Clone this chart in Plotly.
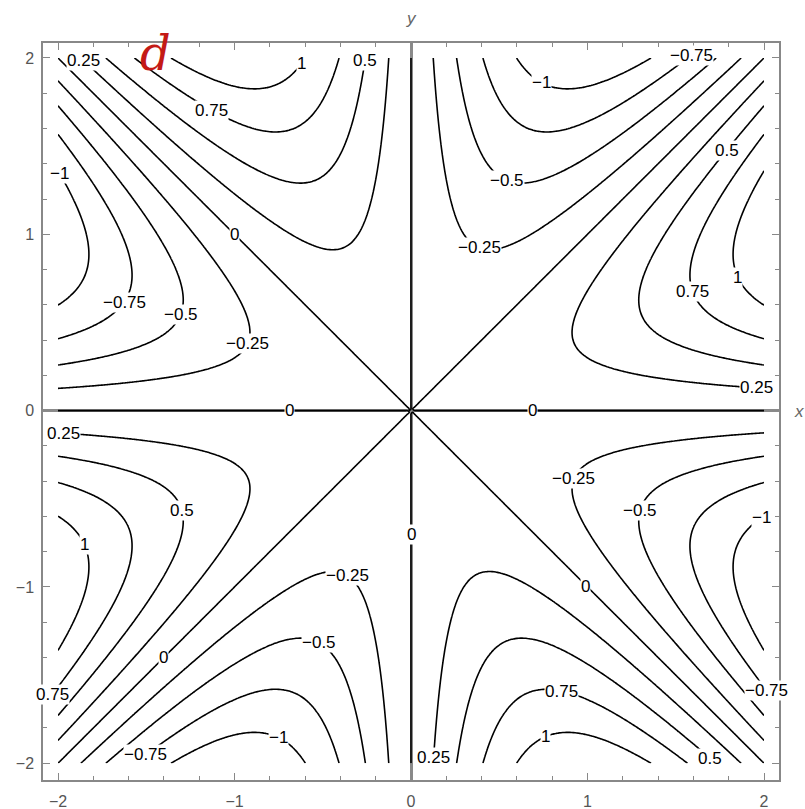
import numpy as np
import plotly.graph_objects as go

# contour levels and axis ticks
levels_start, levels_end, levels_step = -1.0, 1.0, 0.25
tick_vals = [-2, -1, 0, 1, 2]
tick_text = ["\u22122", "\u22121", "0", "1", "2"]

# contour labels: level and approximate spot along that level's curve
label_levels = [0.25, 1, 0.5, 0.75, -1, 0, -0.75, -0.5, -0.25, 0,
                0.25, 0.5, 1, 0, -0.25, 0, -0.5, 0.75, -1, -0.75,
                0.25, 0.75, 1, 0.5, -0.75, 0, -1, -0.5, -0.25, 0,
                0.25, 0.75, 1, 0.5, -0.25, -0.5, -1, -0.75]
label_x = [-1.85, -0.62, -0.26, -1.12, -2.0, -1.0, -1.61, -1.29, -0.93, -0.69,
           -2.0, -1.30, -1.85, 0.0, -0.36, -1.40, -0.52, -1.97, -0.75, -1.54,
           0.13, 0.86, 0.76, 1.72, 1.98, 0.99, 2.0, 1.30, 0.93, 0.69,
           1.98, 1.60, 1.86, 1.78, 0.385, 0.54, 0.74, 1.56]
label_y = [1.98, 1.97, 1.98, 1.69, 1.35, 1.0, 0.61, 0.54, 0.38, 0.0,
           -0.13, -0.57, -0.76, -0.70, -0.93, -1.40, -1.32, -1.56, -1.85, -2.0,
           -2.0, -1.60, -1.85, -2.0, -1.56, -1.0, -0.61, -0.57, -0.39, 0.0,
           0.13, 0.68, 0.76, 1.47, 0.92, 1.30, 1.86, 1.98]


def f(x, y):
    r2 = x**2 + y**2
    with np.errstate(invalid="ignore", divide="ignore"):
        return np.where(r2 > 0, x * y * (x**2 - y**2) / r2, 0.0)


# sample grid for f(x, y) = x y (x^2 - y^2) / (x^2 + y^2)
xs = np.linspace(-2, 2, 401)
ys = np.linspace(-2, 2, 401)
X, Y = np.meshgrid(xs, ys)
Z = f(X, Y)

fig = go.Figure()
fig.add_trace(go.Contour(
    x=xs, y=ys, z=Z,
    contours=dict(start=levels_start, end=levels_end, size=levels_step,
                  coloring="none", showlabels=False),
    line=dict(color="black", width=1.6),
    showscale=False, hoverinfo="skip",
))


def on_level(level, x, y):
    # slide the point radially onto the level curve: f = r^2 sin(4t) / 4
    if level == 0:
        return x, y
    t = np.arctan2(y, x)
    s = np.sin(4 * t)
    if s * level <= 0:
        return x, y
    r = np.sqrt(4 * level / s)
    return r * np.cos(t), r * np.sin(t)


def fmt(v):
    s = f"{v:g}"
    return s.replace("-", "\u2212")


annotations = []
for lv, lx, ly in zip(label_levels, label_x, label_y):
    px, py = on_level(lv, lx, ly)
    annotations.append(dict(
        text=fmt(lv), x=px, y=py, xref="x", yref="y", showarrow=False,
        xanchor="center", yanchor="middle", bgcolor="white", borderpad=0,
        font=dict(size=17, color="black", family="Liberation Sans"),
    ))

annotations += [
    dict(text="<i>x</i>", x=1.0, y=0.5, xref="paper", yref="paper",
         xanchor="left", yanchor="middle", xshift=13, showarrow=False,
         font=dict(size=17, color="#666", family="Liberation Sans")),
    dict(text="<i>y</i>", x=0.5, y=1.0, xref="paper", yref="paper",
         xanchor="center", yanchor="bottom", yshift=13, showarrow=False,
         font=dict(size=17, color="#666", family="Liberation Sans")),
    dict(text="<i>d</i>", x=-1.45, y=2.03, xref="x", yref="y",
         xanchor="center", yanchor="middle", showarrow=False,
         font=dict(size=48, color="#c41a16", family="DejaVu Serif")),
]

axis_common = dict(
    tickvals=tick_vals, ticktext=tick_text, automargin=False,
    ticks="inside", ticklen=7, tickcolor="#888", tickwidth=1,
    minor=dict(ticks="inside", dtick=0.2, ticklen=4, tickcolor="#888", tickwidth=1),
    showline=True, mirror="ticks", linecolor="#888", linewidth=1.5,
    showgrid=False, zeroline=True, zerolinecolor="#8a8a8a", zerolinewidth=2.5,
    tickfont=dict(size=16, color="#555", family="Liberation Sans"),
)
fig.update_xaxes(range=[-2.085, 2.085], ticklabelstandoff=6, **axis_common)
fig.update_yaxes(range=[-2.095, 2.085], ticklabelstandoff=4, **axis_common)

fig.update_layout(
    width=805, height=809,
    margin=dict(l=43, r=26, t=43, b=29),
    plot_bgcolor="white", paper_bgcolor="white",
    showlegend=False,
    annotations=annotations,
)

fig.write_html("out.html")
